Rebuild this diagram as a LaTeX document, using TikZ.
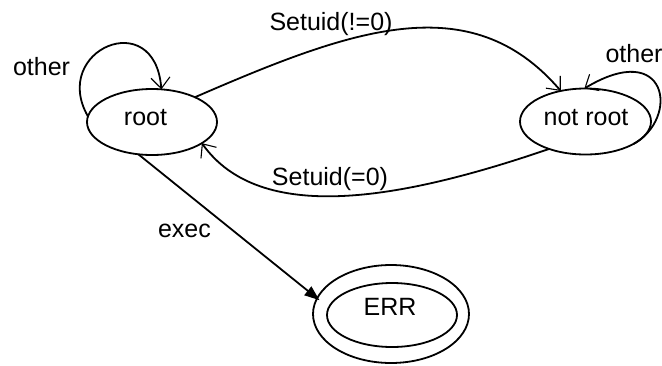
\documentclass[tikz,border=0pt]{standalone}
\usepackage{fontspec}
\setmainfont{Liberation Sans}
\usetikzlibrary{arrows.meta,shapes.geometric}
\begin{document}
\begin{tikzpicture}[x=1pt,y=-1pt,
  state/.style={draw,ellipse,line width=1.8pt,inner sep=0pt,outer sep=0pt,
                minimum width=130pt,minimum height=66pt},
  lbl/.style={anchor=base,inner sep=0pt,font=\fontsize{25}{30}\selectfont},
  trans/.style={line width=1.8pt,
                -{Straight Barb[length=11pt,width=19pt,line width=1.1pt]}},
  final/.style={line width=1.8pt,-{Triangle[length=15pt,width=11pt]}},
]
\fill[white] (0,0) rectangle (662,365);
\useasboundingbox (0,0) rectangle (662,365);

% states
\node[state] (root) at (152,122) {};
\node[state,minimum width=131pt] (notroot) at (585.5,121.5) {};
\node[state,minimum width=156pt,minimum height=98pt] (errout) at (391,314) {};
\node[state,minimum height=64pt] (errin) at (392,315) {};

% state names
\node[lbl] (rootlbl) at (145.5,125) {root};
\node[lbl] (notrootlbl) at (586,125) {not root};
\node[lbl] (errlbl) at (390,315) {ERR};

% transitions
\draw[trans] (root.175) .. controls (50,50) and (155,5) .. (root.74);
\draw[trans] (root.30) .. controls (350,30) and (470,-15) .. (notroot.129);
\draw[trans] (notroot.-25) .. controls (680,118) and (668,38) .. (notroot.92);
\draw[trans] (notroot.217) .. controls (400,200) and (260,225) .. (root.-23);
\draw[final,shorten >=-3pt] (root.-113) -- (errout.168);

% transition labels
\node[lbl] (otherA) at (41.5,75) {other};
\node[lbl] (setnz) at (331,30) {Setuid(!=0)};
\node[lbl] (otherB) at (634,62) {other};
\node[lbl] (setz) at (330,185) {Setuid(=0)};
\node[lbl] (execlbl) at (184.5,237) {exec};
\end{tikzpicture}
\end{document}
